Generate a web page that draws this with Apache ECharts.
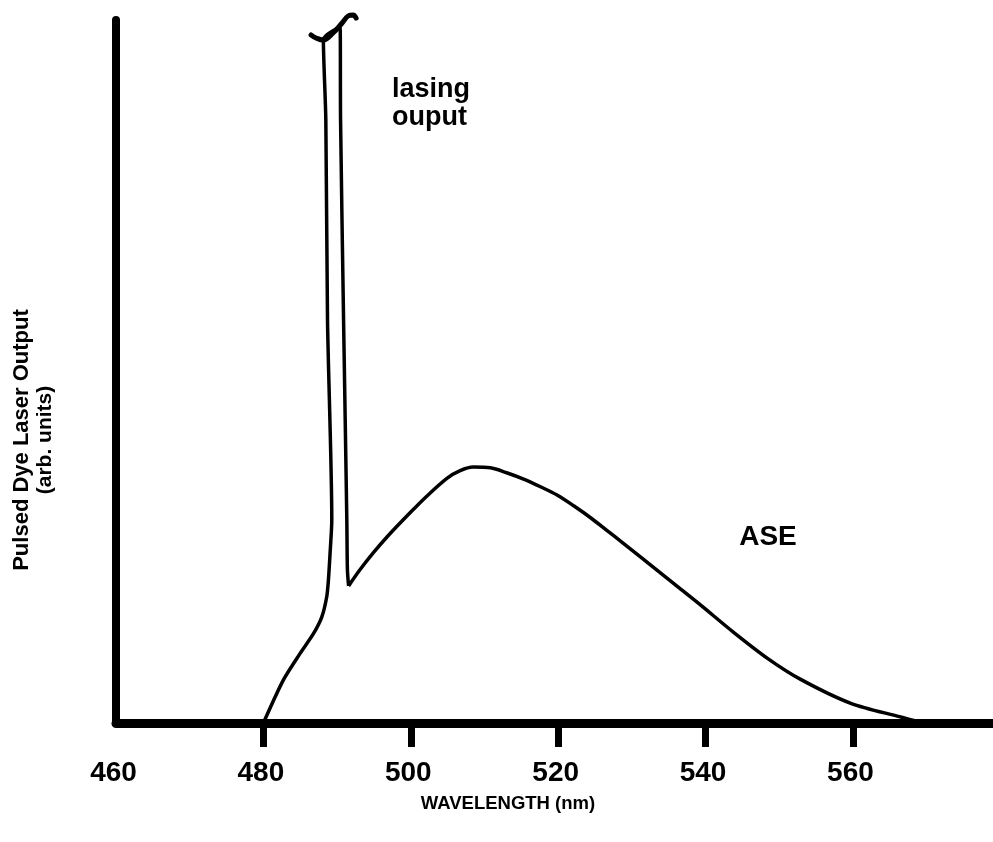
<!DOCTYPE html>
<html>
<head>
<meta charset="utf-8">
<title>Pulsed Dye Laser Output</title>
<script src="https://cdn.jsdelivr.net/npm/echarts@6/dist/echarts.min.js"></script>
<style>
  html, body { margin: 0; padding: 0; background: #fff; }
  #chart { width: 993px; height: 842px; }
</style>
</head>
<body>
<div id="chart"></div>
<script>
// wavelength (nm) / output (arb. units, 0-100 = axis height)
const lasingX = [480.0, 482.7, 484.98, 486.79, 487.93, 488.6, 488.82, 489.05, 489.28, 488.7, 488.47, 488.14,
  490.41, 490.47, 490.88, 491.32, 491.4, 491.56]
const lasingY = [0, 6.1, 9.9, 12.7, 15.1, 18.0, 20.3, 24.2, 28.9, 57.3, 85.8, 97.2,
  99.0, 85.8, 57.3, 28.9, 21.8, 19.5]

const aseX = [491.56, 493.1, 494.9, 496.8, 499.9, 502.2, 504.9, 506.7, 508.5, 510.8, 513.0, 515.3, 517.6, 519.9,
  522.1, 524.4, 526.6, 528.8, 531.2, 536.2, 539.3, 543.8, 548.4, 552.9, 559.7, 566.5, 569.2]
const aseY = [19.5, 21.8, 24.2, 26.5, 29.9, 32.3, 34.8, 35.9, 36.4, 36.3, 35.6, 34.7, 33.6, 32.4,
  30.9, 29.2, 27.4, 25.6, 23.6, 19.4, 16.8, 12.9, 9.2, 6.2, 2.8, 0.85, 0.1]

// axis break mark on top of the lasing peak
const breakX = [486.47, 487.15, 488.1, 489.45, 490.68, 491.49, 492.17, 492.58]
const breakY = [97.87, 97.44, 97.15, 98.15, 99.57, 100.57, 100.71, 100.28]

const tickValues = [480, 500, 520, 540, 560]
const labelValues = [460, 480, 500, 520, 540, 560]

const pairs = (xs, ys) => xs.map((x, i) => [x, ys[i]])
const FONT = 'Liberation Sans, Arial, Helvetica, sans-serif'

let myChart = echarts.init(document.getElementById('chart'))
let option = {
  animation: false,
  backgroundColor: '#fff',
  grid: {
    top: 20,
    left: 116,
    right: 0,
    bottom: 119,
  },
  xAxis: {
    type: 'value',
    min: 460,
    max: 579,
    splitLine: { show: false },
    axisLine: {
      lineStyle: { color: '#000', width: 9 },
    },
    axisTick: {
      show: true,
      inside: false,
      length: 24,
      customValues: tickValues,
      lineStyle: { color: '#000', width: 7 },
    },
    axisLabel: {
      customValues: labelValues,
      color: '#000',
      fontFamily: FONT,
      fontWeight: 'bold',
      fontSize: 28,
      margin: 36,
      padding: [0, 5, 0, 0],
    },
  },
  yAxis: {
    type: 'value',
    min: 0,
    max: 100,
    splitLine: { show: false },
    axisTick: { show: false },
    axisLabel: { show: false },
    axisLine: {
      show: true,
      lineStyle: { color: '#000', width: 8 },
    },
  },
  graphic: [
    {
      type: 'text',
      x: 22,
      y: 440,
      rotation: Math.PI / 2,
      style: {
        text: 'Pulsed Dye Laser Output',
        font: 'bold 22px ' + FONT,
        fill: '#000',
        textAlign: 'center',
        textVerticalAlign: 'middle',
      },
    },
    {
      type: 'text',
      x: 45,
      y: 440,
      rotation: Math.PI / 2,
      style: {
        text: '(arb. units)',
        font: 'bold 21px ' + FONT,
        fill: '#000',
        textAlign: 'center',
        textVerticalAlign: 'middle',
      },
    },
    {
      type: 'text',
      x: 392,
      y: 76,
      style: {
        text: 'lasing\nouput',
        font: 'bold 27px ' + FONT,
        lineHeight: 28,
        fill: '#000',
        textAlign: 'left',
        textVerticalAlign: 'top',
      },
    },
    {
      type: 'text',
      x: 768,
      y: 537,
      style: {
        text: 'ASE',
        font: 'bold 28px ' + FONT,
        fill: '#000',
        textAlign: 'center',
        textVerticalAlign: 'middle',
      },
    },
    {
      type: 'text',
      x: 508,
      y: 804,
      style: {
        text: 'WAVELENGTH (nm)',
        font: 'bold 18.5px ' + FONT,
        fill: '#000',
        textAlign: 'center',
        textVerticalAlign: 'middle',
      },
    },
  ],
  series: [
    {
      name: 'lasing output',
      type: 'line',
      symbol: 'none',
      smooth: 0.25,
      lineStyle: { color: '#000', width: 3.5 },
      data: pairs(lasingX, lasingY),
    },
    {
      name: 'ASE',
      type: 'line',
      symbol: 'none',
      smooth: 0.3,
      lineStyle: { color: '#000', width: 3.5 },
      data: pairs(aseX, aseY),
    },
    {
      name: 'break',
      type: 'line',
      symbol: 'none',
      smooth: 0.4,
      clip: false,
      z: 5,
      lineStyle: { color: '#000', width: 5, cap: 'round' },
      data: pairs(breakX, breakY),
    },
  ],
}
myChart.setOption(option, true)
</script>
</body>
</html>
